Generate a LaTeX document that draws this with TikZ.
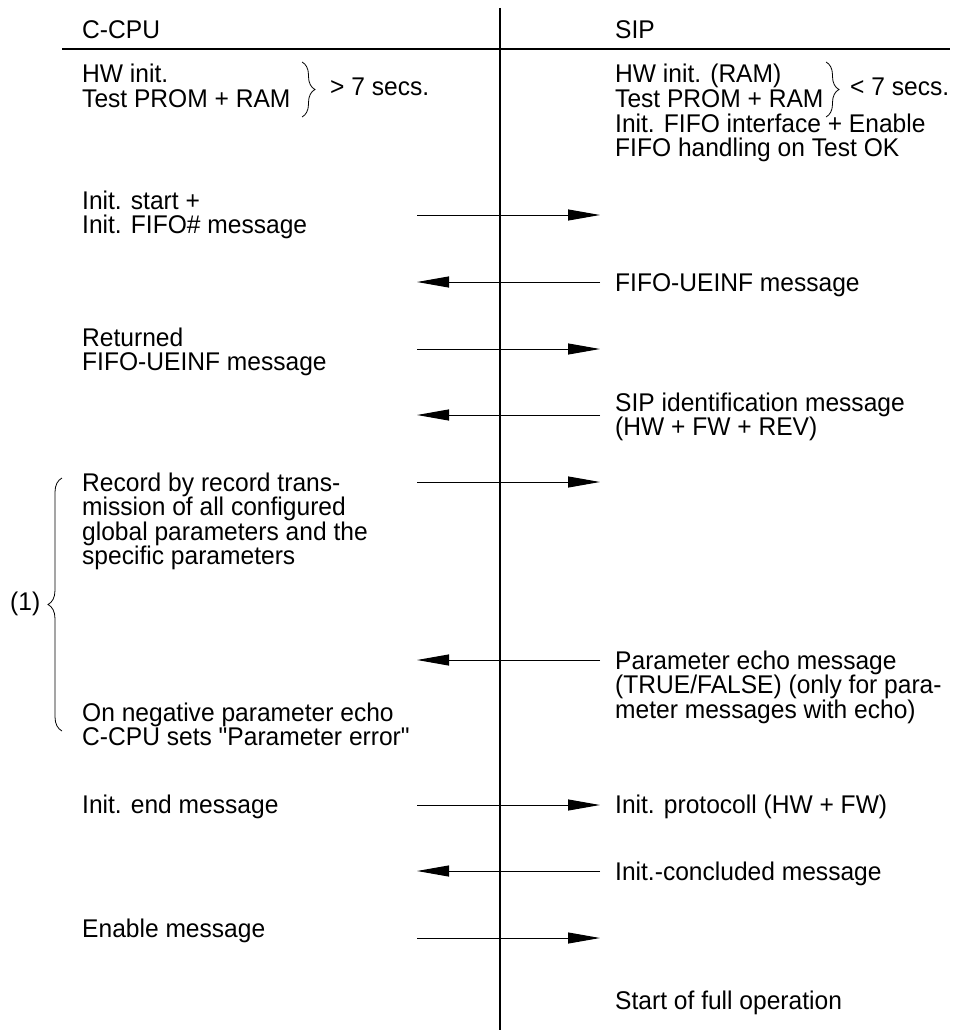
\documentclass[tikz,border=0pt]{standalone}
\usepackage{fontspec}
% plain family: no TeX ligature mapping, so " stays a straight quote
\newfontfamily\labelfont{Liberation Sans}[FakeStretch=0.96]
\usetikzlibrary{arrows.meta,decorations.pathreplacing}
\begin{document}
\begin{tikzpicture}[x=1pt,y=-1pt,
  txt/.style={anchor=base west, inner sep=0pt, font=\labelfont\fontsize{25.6}{25.6}\selectfont},
  msg/.style={line width=1pt, -{Triangle[length=32pt,width=11pt]}},
  lifeline/.style={line width=1.8pt},
  headrule/.style={line width=2.6pt},
  grp/.style={decorate, decoration={brace, amplitude=#1}, line width=0.8pt}]
\useasboundingbox (0,0) rectangle (966,1030);

% header and lifeline
\coordinate (ruleL) at (62,49);
\coordinate (ruleR) at (950,49);
\coordinate (lifeTop) at (500,8);
\coordinate (lifeBot) at (500,1030);
\draw[headrule] (ruleL) -- (ruleR);
\draw[lifeline] (lifeTop) -- (lifeBot);
\node[txt] (hCPU) at (82,39) {C-CPU};
\node[txt] (hSIP) at (615,39) {SIP};

% power-up phase
\node[txt] (l1a) at (82,83) {HW init.};
\node[txt] (l1b) at (82,107.5) {Test PROM + RAM};
\coordinate (bl1) at (302,62);
\coordinate (bl2) at (302,117);
\draw[grp=13pt] (bl1) -- (bl2);
\node[txt] (tl) at (330,96) {> 7 secs.};

\node[txt] (r1a) at (615,83) {HW init. (RAM)};
\node[txt] (r1b) at (615,107.5) {Test PROM + RAM};
\node[txt] (r1c) at (615,132) {Init. FIFO interface + Enable};
\node[txt] (r1d) at (615,156.5) {FIFO handling on Test OK};
\coordinate (br1) at (826,62);
\coordinate (br2) at (826,117);
\draw[grp=13pt] (br1) -- (br2);
\node[txt] (tr) at (850,96) {< 7 secs.};

% message arrows: C = C-CPU side end, S = SIP side end
\foreach \n/\y in {1/215,2/282,3/349,4/415,5/482,6/660,7/805,8/871,9/938}{
  \coordinate (C\n) at (417,\y);
  \coordinate (S\n) at (600,\y);
}
\draw[msg] (C1) -- (S1);
\draw[msg] (S2) -- (C2);
\draw[msg] (C3) -- (S3);
\draw[msg] (S4) -- (C4);
\draw[msg] (C5) -- (S5);
\draw[msg] (S6) -- (C6);
\draw[msg] (C7) -- (S7);
\draw[msg] (S8) -- (C8);
\draw[msg] (C9) -- (S9);

% message texts
\node[txt] (m1a) at (82,209) {Init. start +};
\node[txt] (m1b) at (82,233.5) {Init. FIFO\# message};
\node[txt] (m2) at (615,291) {FIFO-UEINF message};
\node[txt] (m3a) at (82,346) {Returned};
\node[txt] (m3b) at (82,370.5) {FIFO-UEINF message};
\node[txt] (m4a) at (615,411) {SIP identification message};
\node[txt] (m4b) at (615,435.5) {(HW + FW + REV)};

\node[txt] (m5a) at (82,491) {Record by record trans-};
\node[txt] (m5b) at (82,515.5) {mission of all configured};
\node[txt] (m5c) at (82,540) {global parameters and the};
\node[txt] (m5d) at (82,564.5) {specific parameters};

\node[txt] (m6a) at (615,669) {Parameter echo message};
\node[txt] (m6b) at (615,693.5) {(TRUE/FALSE) (only for para-};
\node[txt] (m6c) at (615,718) {meter messages with echo)};
\node[txt] (n6a) at (82,721) {On negative parameter echo};
\node[txt] (n6b) at (82,745.5) {C-CPU sets "Parameter error"};

\coordinate (bg1) at (62,731);
\coordinate (bg2) at (62,478);
\draw[grp=14pt] (bg1) -- (bg2);
\node[txt] (grp1) at (10,610) {(1)};

\node[txt] (m7a) at (82,813) {Init. end message};
\node[txt] (m7b) at (615,813) {Init. protocoll (HW + FW)};
\node[txt] (m8) at (615,880) {Init.-concluded message};
\node[txt] (m9) at (82,937) {Enable message};
\node[txt] (m10) at (615,1009) {Start of full operation};
\end{tikzpicture}
\end{document}
